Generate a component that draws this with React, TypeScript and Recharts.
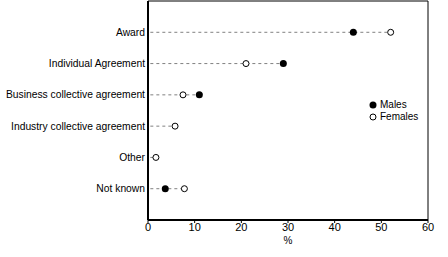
import { ScatterChart, Scatter, XAxis, YAxis, ReferenceLine } from 'recharts';

const categories = [
  'Award',
  'Individual Agreement',
  'Business collective agreement',
  'Industry collective agreement',
  'Other',
  'Not known',
];
const males: (number | null)[] = [44, 29, 11, null, null, 3.7];
const females: (number | null)[] = [52, 21, 7.5, 5.8, 1.7, 7.8];
const xTicks = [0, 10, 20, 30, 40, 50, 60];

const FONT = '"Liberation Sans", Arial, sans-serif';

const maleData = males
  .map((v, i) => (v == null ? null : { x: v, y: i + 1 }))
  .filter(Boolean) as { x: number; y: number }[];
const femaleData = females
  .map((v, i) => (v == null ? null : { x: v, y: i + 1 }))
  .filter(Boolean) as { x: number; y: number }[];
const lineEnds = categories.map((_, i) => Math.max(males[i] ?? 0, females[i] ?? 0));

// eslint-disable-next-line @typescript-eslint/no-explicit-any
const MaleDot = ({ cx, cy }: any) => <circle cx={cx} cy={cy} r={3.5} fill="#000" />;
// eslint-disable-next-line @typescript-eslint/no-explicit-any
const FemaleDot = ({ cx, cy }: any) => (
  <circle cx={cx} cy={cy} r={3} fill="#fff" stroke="#000" strokeWidth={1} />
);

// eslint-disable-next-line @typescript-eslint/no-explicit-any
const CategoryTick = ({ x, y, payload }: any) => (
  <text x={x} y={y} dy={3.5} textAnchor="end" fontSize={10.3} fontFamily={FONT} fill="#000">
    {categories[payload.value - 1] ?? ''}
  </text>
);

function LegendBox() {
  return (
    <div
      style={{
        position: 'absolute', left: 369, top: 99,
        fontFamily: FONT, fontSize: 10, color: '#000', lineHeight: '12px',
      }}
    >
      <div style={{ display: 'flex', alignItems: 'center', gap: 3 }}>
        <svg width={8} height={8}><circle cx={4} cy={4} r={3.5} fill="#000" /></svg>
        <span>Males</span>
      </div>
      <div style={{ display: 'flex', alignItems: 'center', gap: 3 }}>
        <svg width={8} height={8}><circle cx={4} cy={4} r={3} fill="#fff" stroke="#000" /></svg>
        <span>Females</span>
      </div>
    </div>
  );
}

export default function App() {
  return (
    <div style={{ position: 'relative', width: 448, height: 257 }}>
      <style>{'body{margin:0;background:#fff}'}</style>
      <ScatterChart width={448} height={257} margin={{ top: 1, right: 20, bottom: 0, left: 0 }}>
        <XAxis
          type="number"
          dataKey="x"
          domain={[0, 60]}
          ticks={xTicks}
          height={37}
          axisLine={{ stroke: '#000', strokeWidth: 2 }}
          tickLine={{ stroke: '#000' }}
          tickSize={3}
          tickMargin={0}
          tick={{ fontSize: 11, fill: '#000', fontFamily: FONT }}
          label={{ value: '%', position: 'insideBottom', offset: 13, fontSize: 10, fill: '#000', fontFamily: FONT }}
        />
        <YAxis
          type="number"
          dataKey="y"
          domain={[0, 7]}
          ticks={[1, 2, 3, 4, 5, 6]}
          reversed
          width={148}
          axisLine={{ stroke: '#000', strokeWidth: 2 }}
          tickLine={false}
          tickSize={3}
          tickMargin={0}
          tick={<CategoryTick />}
        />
        <ReferenceLine y={0} stroke="#000" strokeWidth={1} />
        <ReferenceLine x={60} stroke="#000" strokeWidth={1} />
        {lineEnds.map((end, i) => (
          <ReferenceLine
            key={categories[i]}
            segment={[{ x: 0.5, y: i + 1 }, { x: end, y: i + 1 }]}
            stroke="#808080"
            strokeDasharray="3 3"
          />
        ))}
        <Scatter name="Males" data={maleData} shape={<MaleDot />} isAnimationActive={false} />
        <Scatter name="Females" data={femaleData} shape={<FemaleDot />} isAnimationActive={false} />
      </ScatterChart>
      <LegendBox />
    </div>
  );
}
